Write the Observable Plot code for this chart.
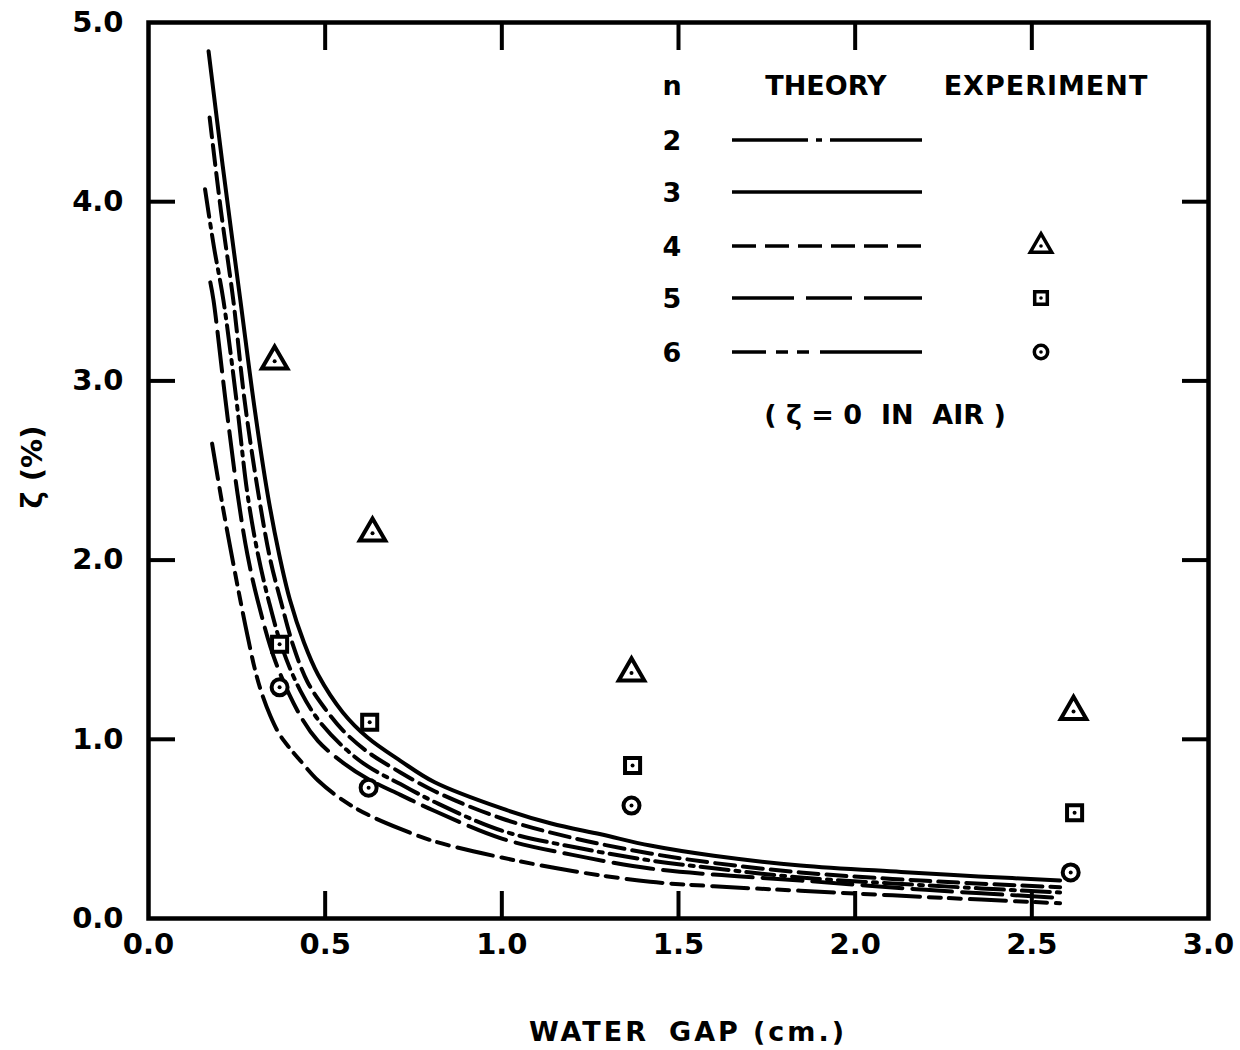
<!DOCTYPE html>
<html><head><meta charset="utf-8">
<script src="https://cdn.jsdelivr.net/npm/d3@7"></script>
<script src="https://cdn.jsdelivr.net/npm/@observablehq/plot@0.6"></script>
<style>
body{margin:0;background:#fff}
#chart{position:relative;width:1240px;height:1050px}
</style>
</head><body><div id="chart"></div>
<script>
// ---- data ----
const nValues = ["2", "3", "4", "5", "6"];

// theory curves (water gap in cm, zeta in %)
const gapN3  = [0.17,0.21,0.26,0.30,0.337,0.37,0.40,0.44,0.48,0.55,0.62,0.713,0.81,1.0,1.14,1.28,1.42,1.6,1.845,2.13,2.35,2.58];
const zetaN3 = [4.84,4.20,3.45,2.85,2.37,2.03,1.78,1.54,1.36,1.15,1.01,0.88,0.76,0.614,0.53,0.47,0.407,0.35,0.296,0.26,0.235,0.212];

const gapN4  = [0.173,0.205,0.24,0.272,0.311,0.345,0.374,0.41,0.45,0.50,0.55,0.62,0.713,0.81,1.0,1.2,1.42,1.6,1.845,2.2,2.58];
const zetaN4 = [4.47,3.95,3.45,2.89,2.37,2.00,1.775,1.52,1.32,1.17,1.05,0.93,0.815,0.71,0.558,0.45,0.363,0.31,0.257,0.21,0.175];

const gapN2  = [0.16,0.185,0.212,0.249,0.28,0.31,0.34,0.38,0.43,0.48,0.55,0.62,0.713,0.81,1.0,1.2,1.42,1.6,1.845,2.2,2.58];
const zetaN2 = [4.07,3.75,3.45,2.89,2.37,2.03,1.775,1.50,1.27,1.11,0.96,0.85,0.75,0.65,0.49,0.40,0.324,0.28,0.229,0.185,0.145];

const gapN5  = [0.175,0.184,0.218,0.252,0.28,0.309,0.36,0.43,0.48,0.55,0.62,0.713,0.81,1.0,1.2,1.42,1.6,1.845,2.2,2.58];
const zetaN5 = [3.55,3.45,2.89,2.37,2.03,1.775,1.43,1.13,0.99,0.87,0.78,0.69,0.60,0.446,0.355,0.279,0.245,0.212,0.16,0.115];

const gapN6  = [0.18,0.21,0.26,0.28,0.30,0.32,0.345,0.37,0.40,0.43,0.48,0.55,0.62,0.713,0.81,1.0,1.2,1.42,1.6,1.845,2.2,2.58];
const zetaN6 = [2.65,2.30,1.775,1.58,1.40,1.26,1.13,1.03,0.95,0.88,0.77,0.66,0.58,0.50,0.43,0.34,0.265,0.205,0.18,0.155,0.12,0.085];

// experiment
const expGapN4  = [0.357, 0.634, 1.367, 2.618];
const expZetaN4 = [3.11, 2.15, 1.37, 1.155];
const expGapN5  = [0.371, 0.626, 1.370, 2.621];
const expZetaN5 = [1.53, 1.095, 0.854, 0.59];
const expGapN6  = [0.371, 0.623, 1.367, 2.610];
const expZetaN6 = [1.29, 0.73, 0.63, 0.257];

// axes
const xTicks = [0, 0.5, 1.0, 1.5, 2.0, 2.5, 3.0];
const xTickLabels = ["0.0", "0.5", "1.0", "1.5", "2.0", "2.5", "3.0"];
const yTicks = [0, 1, 2, 3, 4, 5];
const yTickLabels = ["0.0", "1.0", "2.0", "3.0", "4.0", "5.0"];

// ---- build tables ----
const zip = (g, z) => g.map((x, i) => ({gap: x, zeta: z[i]}));
const theory = {
  "2": zip(gapN2, zetaN2), "3": zip(gapN3, zetaN3), "4": zip(gapN4, zetaN4),
  "5": zip(gapN5, zetaN5), "6": zip(gapN6, zetaN6)
};
const experiment = {
  "4": zip(expGapN4, expZetaN4), "5": zip(expGapN5, expZetaN5), "6": zip(expGapN6, expZetaN6)
};
const dash = {"2": "28,7,4,7", "3": null, "4": "20,8", "5": "40,10", "6": "36,9,12,8,12,9"};
const legendDash = {"2": "76,8,6,8,200", "3": null, "4": "24,9", "5": "62,12,46,12,200", "6": "34,10,12,9,12,11,200"};
const symbolOf = {"4": "triangle", "5": "square", "6": "circle"};
const rOf = {"4": 9.5, "5": 8.5, "6": 8};

const FONT = "'DejaVu Sans', 'Liberation Sans', sans-serif";
const innerX = xTicks.slice(1, -1);
const innerY = yTicks.slice(1, -1);

const marks = [];
// tick labels
marks.push(Plot.axisX(xTicks, {anchor: "bottom", tickSize: 0, tickPadding: 15, fontSize: 29, fontWeight: "bold",
  tickFormat: d => xTickLabels[xTicks.indexOf(d)], label: null}));
marks.push(Plot.axisY(yTicks, {anchor: "left", tickSize: 0, tickPadding: 25, fontSize: 29, fontWeight: "bold",
  tickFormat: d => yTickLabels[yTicks.indexOf(d)], label: null}));
// inward ticks on all four sides
for (const a of ["bottom", "top"]) marks.push(Plot.axisX(innerX, {anchor: a, tickSize: -27, strokeWidth: 4, fill: "none", label: null}));
for (const a of ["left", "right"]) marks.push(Plot.axisY(innerY, {anchor: a, tickSize: -27, strokeWidth: 4, fill: "none", label: null}));
marks.push(Plot.frame({strokeWidth: 4.5}));
// theory curves
for (const n of nValues) {
  marks.push(Plot.line(theory[n], {x: "gap", y: "zeta", curve: "catmull-rom", stroke: "black",
    strokeWidth: 4, strokeDasharray: dash[n] || undefined, strokeLinecap: "round"}));
}
// experiment points
for (const n of ["4", "5", "6"]) {
  marks.push(Plot.dot(experiment[n], {x: "gap", y: "zeta", symbol: symbolOf[n], r: rOf[n],
    stroke: "black", strokeWidth: 4, fill: "white"}));
  marks.push(Plot.dot(experiment[n], {x: "gap", y: "zeta", r: 2, fill: "black"}));
}

const plot = Plot.plot({
  width: 1240, height: 1050,
  marginLeft: 148, marginRight: 32, marginTop: 22, marginBottom: 132,
  x: {domain: [0, 3]}, y: {domain: [0, 5]},
  style: {fontFamily: FONT, fontWeight: "bold", background: "white", color: "black", overflow: "visible"},
  marks
});
document.getElementById("chart").appendChild(plot);

// ---- axis titles and legend (drawn into the same svg) ----
const svg = d3.select(plot);
const g = svg.append("g").attr("font-family", FONT).attr("font-weight", "bold").attr("fill", "black");

g.append("text").attr("transform", "translate(32,467) rotate(-90)").attr("text-anchor", "middle")
  .attr("dominant-baseline", "central").attr("font-size", 29).text("ζ (%)");
[["WATER", 589], ["GAP", 705], ["(cm.)", 800]].forEach(([t, x]) =>
  g.append("text").attr("x", x).attr("y", 1041).attr("text-anchor", "middle")
    .attr("font-size", 27).attr("letter-spacing", 3).text(t));

// legend
const lg = g.append("g").attr("font-size", 27);
lg.append("text").attr("x", 672).attr("y", 95).attr("text-anchor", "middle").text("n");
lg.append("text").attr("x", 826).attr("y", 95).attr("text-anchor", "middle").text("THEORY");
lg.append("text").attr("x", 1046).attr("y", 95).attr("text-anchor", "middle").attr("letter-spacing", 1).text("EXPERIMENT");
const rowY = {"2": 140, "3": 192, "4": 246, "5": 298, "6": 352};
for (const n of nValues) {
  const y = rowY[n];
  lg.append("text").attr("x", 672).attr("y", y + 10).attr("text-anchor", "middle").text(n);
  lg.append("line").attr("x1", 732).attr("x2", 922).attr("y1", y).attr("y2", y)
    .attr("stroke", "black").attr("stroke-width", 3.5)
    .attr("stroke-dasharray", legendDash[n] || null);
  if (symbolOf[n]) {
    const sym = {triangle: d3.symbolTriangle, square: d3.symbolSquare, circle: d3.symbolCircle}[symbolOf[n]];
    const size = Math.PI * rOf[n] * rOf[n] * 0.7;
    lg.append("path").attr("transform", `translate(1041,${y})`).attr("d", d3.symbol(sym, size)())
      .attr("fill", "white").attr("stroke", "black").attr("stroke-width", 3.5);
    lg.append("circle").attr("cx", 1041).attr("cy", y).attr("r", 1.8).attr("fill", "black");
  }
}
lg.append("text").attr("x", 885).attr("y", 424).attr("text-anchor", "middle").attr("xml:space", "preserve")
  .style("white-space", "pre").text("( ζ = 0  IN  AIR )");
</script>
</body></html>
